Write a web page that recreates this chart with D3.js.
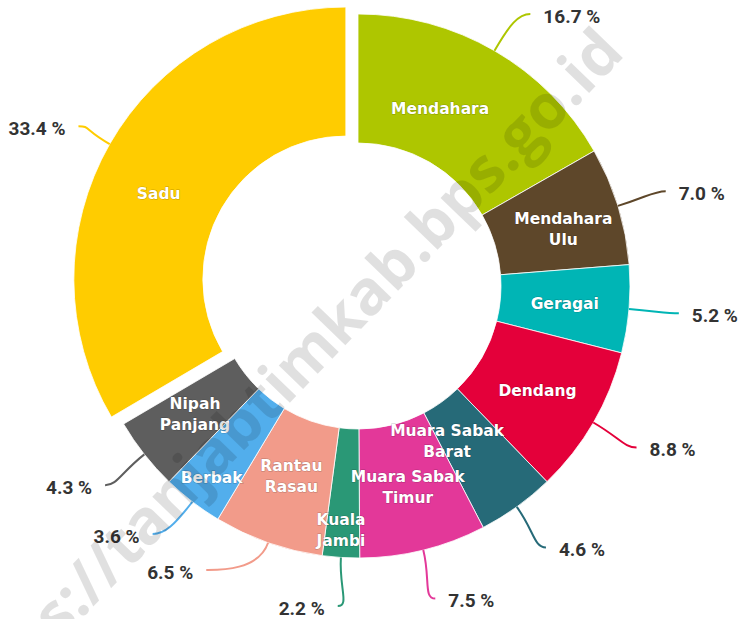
<!DOCTYPE html>
<html>
<head>
<meta charset="utf-8">
<script src="https://cdn.jsdelivr.net/npm/d3@7"></script>
<style>
  html, body { margin: 0; padding: 0; background: #fff; }
  svg { display: block; }
</style>
</head>
<body>
<div id="chart"></div>
<script>
// kecamatan shares (%), clockwise from 12 o'clock
const districts = ["Mendahara", "Mendahara Ulu", "Geragai", "Dendang", "Muara Sabak Barat",
    "Muara Sabak Timur", "Kuala Jambi", "Rantau Rasau", "Berbak", "Nipah Panjang", "Sadu"];
const shares = [16.7, 7.0, 5.2, 8.8, 4.6, 7.5, 2.2, 6.5, 3.6, 4.3, 33.4];
const colors = ["#AEC600", "#5E472A", "#00B5B5", "#E4003A", "#266A78",
    "#E33899", "#2A9876", "#F29B8A", "#52AEEC", "#5E5E5E", "#FFCC00"];
const sliced = ["Sadu"];

const width = 744, height = 619;
const cx = 358, cy = 286;
const outerR = 272, innerR = 143;
const labelR = 322;   // where the % labels sit
const slicedOffset = 14;

// small nudges for the inside labels (the original moved a few of them)
const nudge = {
    "Mendahara": [-22, 2], "Mendahara Ulu": [7, 4], "Muara Sabak Barat": [-32, -13],
    "Kuala Jambi": [-4, 37], "Berbak": [-20, 27], "Rantau Rasau": [2, -6], "Sadu": [-7, 18]
};

const data = districts.map((name, i) => ({name, value: shares[i], color: colors[i]}));

const svg = d3.select("#chart").append("svg")
    .attr("width", width)
    .attr("height", height)
    .style("background", "#fff");

const g = svg.append("g").attr("transform", `translate(${cx},${cy})`);

const pie = d3.pie().sort(null).value(d => d.value);
const arcs = pie(data);

const arc = d3.arc().innerRadius(innerR).outerRadius(outerR);

let polar = (a, r) => [Math.sin(a) * r, -Math.cos(a) * r];
let mid = d => (d.startAngle + d.endAngle) / 2;
let offset = d => sliced.includes(d.data.name) ? polar(mid(d), slicedOffset) : [0, 0];

// slices
g.append("g")
    .selectAll("path")
    .data(arcs)
    .join("path")
    .attr("d", arc)
    .attr("fill", d => d.data.color)
    .attr("stroke", "#fff")
    .attr("stroke-width", 0.8)
    .attr("transform", d => `translate(${offset(d)})`);

// watermark
const wm = svg.append("g")
    .attr("transform", "translate(422,266) rotate(-46)")
    .style("font-family", "'Open Sans', sans-serif")
    .style("font-weight", 700)
    .style("font-size", "62px")
    .attr("fill", "rgba(0,0,0,0.12)");
wm.append("text").attr("text-anchor", "end").text("https://tanjabtimkab");
wm.append("text").attr("text-anchor", "start").text(".bps.go.id");

// % label positions, pushed apart on each side like the original
let items = arcs.map(d => {
    let a = mid(d);
    let p = polar(a, labelR);
    return {d, a, x: p[0], y: p[1], y0: p[1], right: a < Math.PI};
});

let right = items.filter(o => o.right).sort((a, b) => a.y - b.y);
let prev = -Infinity;
right.forEach(o => {
    o.y = Math.max(o.y, prev + 36, -cy + 14);
    prev = o.y;
});
let left = items.filter(o => !o.right).sort((a, b) => b.y - a.y);
prev = Infinity;
left.forEach(o => {
    o.y = Math.min(o.y, prev - 36, height - cy - 13);
    prev = o.y;
});
items.forEach(o => {
    if (Math.abs(o.y - o.y0) < 3) return;
    let dx = Math.sqrt(Math.max(0, labelR * labelR - o.y * o.y));
    o.x = o.right ? dx : -dx;
});

// connectors
g.append("g")
    .selectAll("path")
    .data(items)
    .join("path")
    .attr("fill", "none")
    .attr("stroke", o => o.d.data.color)
    .attr("stroke-width", 2)
    .attr("d", o => {
        let off = offset(o.d);
        let p0 = polar(o.a, outerR);
        p0 = [p0[0] + off[0], p0[1] + off[1]];
        let c1 = polar(o.a, outerR + 30);
        c1 = [c1[0] + off[0], c1[1] + off[1]];
        let c2 = [o.x + (o.right ? -12 : 12), o.y];
        return `M${p0}C${c1} ${c2} ${o.x},${o.y}`;
    });

// % labels
g.append("g")
    .selectAll("text")
    .data(items)
    .join("text")
    .attr("x", o => o.x + (o.right ? 13 : -13))
    .attr("y", o => o.y + 2)
    .attr("dy", "0.35em")
    .attr("text-anchor", o => o.right ? "start" : "end")
    .style("font-family", "Roboto, sans-serif")
    .style("font-weight", 700)
    .style("font-size", "19px")
    .attr("fill", "#333")
    .text(o => o.d.data.value.toFixed(1) + " %");

// inside labels
const midArc = d3.arc().innerRadius((innerR + outerR) / 2).outerRadius((innerR + outerR) / 2);
let inner = g.append("g")
    .selectAll("text")
    .data(arcs)
    .join("text")
    .attr("transform", d => {
        let c = midArc.centroid(d);
        let off = offset(d);
        let n = nudge[d.data.name] || [0, 0];
        return `translate(${c[0] + off[0] + n[0]},${c[1] + off[1] + n[1]})`;
    })
    .attr("text-anchor", "middle")
    .style("font-family", "'DejaVu Sans', sans-serif")
    .style("font-weight", 700)
    .style("font-size", "15.5px")
    .attr("fill", "#fff")
    .attr("stroke", "rgba(0,0,0,0.25)")
    .attr("stroke-width", 1)
    .style("paint-order", "stroke");

inner.each(function(d) {
    let name = d.data.name;
    let cut = name.lastIndexOf(" ");
    let lines = ["Mendahara", "Geragai", "Dendang", "Berbak", "Sadu"].includes(name) || cut < 0
        ? [name] : [name.slice(0, cut), name.slice(cut + 1)];
    let t = d3.select(this);
    lines.forEach((ln, i) => {
        t.append("tspan")
            .attr("x", 0)
            .attr("y", (i - (lines.length - 1) / 2) * 21)
            .attr("dy", "0.35em")
            .text(ln);
    });
});
</script>
</body>
</html>
